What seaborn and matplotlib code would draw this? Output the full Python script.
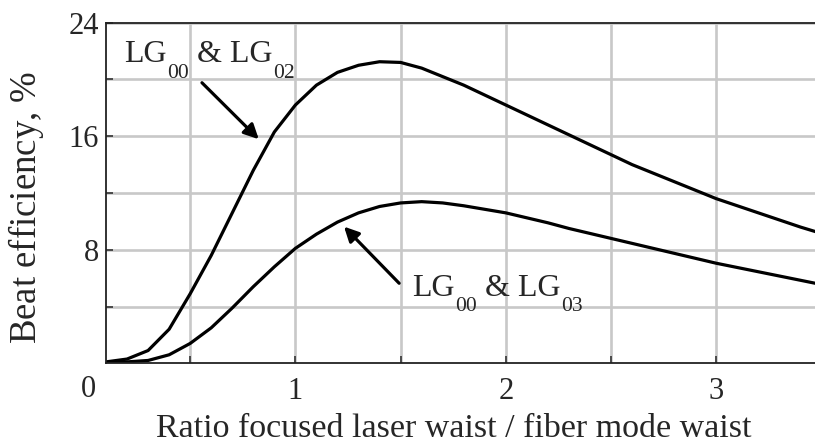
import numpy as np
import pandas as pd
import matplotlib
matplotlib.use("Agg")
import matplotlib.pyplot as plt
import seaborn as sns

# waist ratio (focused laser / fiber mode)
ratio = [0.1, 0.2, 0.3, 0.4, 0.5, 0.6, 0.7, 0.8, 0.9, 1.0,
         1.1, 1.2, 1.3, 1.4, 1.5, 1.6, 1.7, 1.8, 1.9, 2.0,
         2.1, 2.2, 2.3, 2.4, 2.5, 2.6, 2.7, 2.8, 2.9, 3.0,
         3.1, 3.2, 3.3, 3.4, 3.5]

# beat efficiency, %
eff_lg02 = [0.1, 0.3, 0.9, 2.4, 4.9, 7.6, 10.6, 13.6, 16.3, 18.2,
            19.6, 20.5, 21.0, 21.25, 21.2, 20.8, 20.2, 19.6, 18.9, 18.2,
            17.5, 16.8, 16.1, 15.4, 14.7, 14.0, 13.4, 12.8, 12.2, 11.6,
            11.1, 10.6, 10.1, 9.6, 9.15]
eff_lg03 = [0.05, 0.1, 0.2, 0.6, 1.4, 2.5, 3.9, 5.4, 6.8, 8.1,
            9.1, 9.95, 10.6, 11.05, 11.3, 11.39, 11.3, 11.1, 10.85, 10.6,
            10.25, 9.9, 9.5, 9.15, 8.8, 8.45, 8.1, 7.75, 7.4, 7.05,
            6.75, 6.45, 6.15, 5.85, 5.55]

# curve labels as (text, is_subscript) pieces
label_02 = [("LG", False), ("00", True), (" & LG", False), ("02", True)]
label_03 = [("LG", False), ("00", True), (" & LG", False), ("03", True)]

df = pd.DataFrame({"ratio": ratio, "lg02": eff_lg02, "lg03": eff_lg03})

sns.set_style("ticks")
plt.rcParams["font.family"] = ["Liberation Serif", "DejaVu Serif"]
plt.rcParams["mathtext.fontset"] = "custom"
plt.rcParams["mathtext.rm"] = "Liberation Serif"
plt.rcParams["mathtext.it"] = "Liberation Serif:italic"

fig = plt.figure(figsize=(8.15, 4.46), dpi=100)
ax = fig.add_axes([106 / 815, (446 - 363.3) / 446, (821.5 - 106) / 815, (363.3 - 22.7) / 446])

sns.lineplot(data=df, x="ratio", y="lg02", color="black", linewidth=2.3, ax=ax)
sns.lineplot(data=df, x="ratio", y="lg03", color="black", linewidth=2.3, ax=ax)

ax.set_xlim(0.1, 3.5)
ax.set_ylim(0, 24)
xt = np.arange(0.5, 3.51, 0.5)
yt = np.arange(4, 24.1, 4)
ax.set_xticks(xt)
ax.set_xticklabels(["" if v % 1 else str(int(v)) for v in xt])
ax.set_yticks(yt)
ax.set_yticklabels([str(int(v)) if v % 8 == 0 else "" for v in yt])
ax.grid(True, color="#c8c8c8", linewidth=1.9)
ax.set_axisbelow(True)
ax.tick_params(direction="in", length=5, width=1.2, labelsize=22, color="#333333")
ax.tick_params(axis="x", pad=10)
ax.tick_params(axis="y", pad=5)

for side in ["left", "bottom", "top"]:
    ax.spines[side].set_linewidth(1.3)
    ax.spines[side].set_color("#222222")
ax.spines["right"].set_visible(False)

# origin label
ax.text(0.018, -0.0755, "0", transform=ax.get_xaxis_transform(), ha="center", va="center", fontsize=22)

ax.set_xlabel("Ratio focused laser waist / fiber mode waist", fontsize=24.5)
ax.xaxis.set_label_coords(0.486, -0.148)
ax.set_ylabel(r"Beat efficiency, $\mathit{\%}$", fontsize=26.5)
ax.yaxis.set_label_coords(-0.084, 0.459)


def piece_label(x, y, pieces, size=23, sub_size=15.5):
    first = ax.text(x, y, pieces[0][0], fontsize=size, ha="left", va="baseline")
    prev = first
    for txt, sub in pieces[1:]:
        if sub:
            prev = ax.annotate(txt, xy=(1, 0), xycoords=(prev, first), xytext=(0.5, -6),
                               textcoords="offset points", fontsize=sub_size,
                               ha="left", va="baseline")
        else:
            prev = ax.annotate(txt, xy=(1, 0), xycoords=(prev, first), fontsize=size,
                               ha="left", va="bottom")


piece_label(0.184, 21.2, label_02)
ax.annotate("", xy=(0.826, 15.79), xytext=(0.556, 19.77),
            arrowprops=dict(arrowstyle="-|>", mutation_scale=22, lw=2.3, color="black",
                            shrinkA=0, shrinkB=0))
piece_label(1.555, 4.76, label_03)
ax.annotate("", xy=(1.231, 9.63), xytext=(1.493, 5.64),
            arrowprops=dict(arrowstyle="-|>", mutation_scale=22, lw=2.3, color="black",
                            shrinkA=0, shrinkB=0))

fig.savefig("out.png", dpi=100)
